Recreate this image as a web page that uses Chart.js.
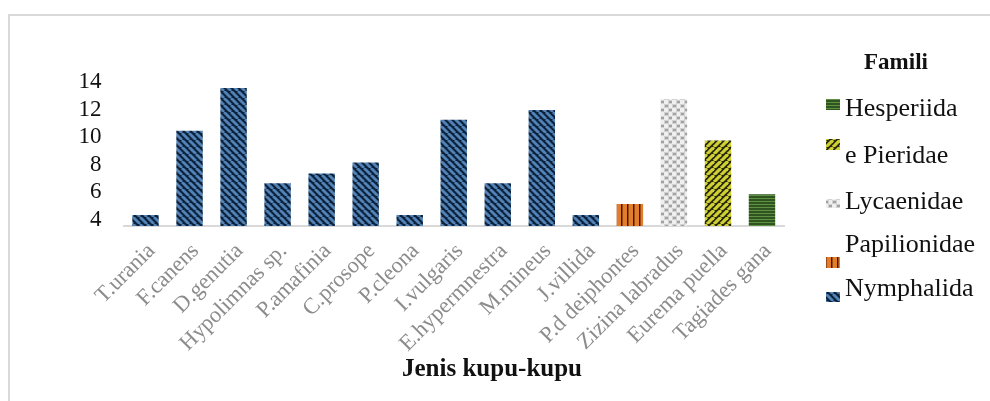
<!DOCTYPE html>
<html>
<head>
<meta charset="utf-8">
<script src="https://cdn.jsdelivr.net/npm/chart.js@4"></script>
<style>
  html, body { margin: 0; padding: 0; background: #fff; overflow: hidden; }
  #wrap { position: relative; width: 990px; height: 401px; }
</style>
</head>
<body>
<div id="wrap"><canvas id="c" width="990" height="401"></canvas></div>
<script>
// Butterfly species on the x axis
const species = ['T.urania', 'F.canens', 'D.genutia', 'Hypolimnas sp.', 'P.amafinia', 'C.prosope',
  'P.cleona', 'I.vulgaris', 'E.hypermnestra', 'M.mineus', 'J.villida', 'P.d deiphontes',
  'Zizina labradus', 'Eurema puella', 'Tagiades gana'];

// Value for each species
const values = [4.8, 10.9, 14.0, 7.1, 7.8, 8.6, 4.8, 11.7, 7.1, 12.4, 4.8, 5.6, 13.2, 10.2, 6.3];

// Family of each species (as labelled in the legend)
const familyOf = ['Nymphalida', 'Nymphalida', 'Nymphalida', 'Nymphalida', 'Nymphalida', 'Nymphalida',
  'Nymphalida', 'Nymphalida', 'Nymphalida', 'Nymphalida', 'Nymphalida', 'Papilionidae',
  'Lycaenidae', 'e Pieridae', 'Hesperiida'];

// Families, in dataset order and in legend order
const families = ['Nymphalida', 'Papilionidae', 'Lycaenidae', 'e Pieridae', 'Hesperiida'];
const legendOrder = ['Hesperiida', 'e Pieridae', 'Lycaenidae', 'Papilionidae', 'Nymphalida'];

// Value axis
const yTicks = [4, 6, 8, 10, 12, 14];

const xTitle = 'Jenis kupu-kupu';
const legendTitle = 'Famili';

// ---- fill patterns ----
const mainCtx = document.getElementById('c').getContext('2d');
function tile(w, h, draw) {
  const c = document.createElement('canvas');
  c.width = w; c.height = h;
  draw(c.getContext('2d'), w, h);
  return mainCtx.createPattern(c, 'repeat');
}
function diagonal(s, bg, fg, lw, down) {
  return tile(s, s, (g) => {
    g.fillStyle = bg; g.fillRect(0, 0, s, s);
    g.strokeStyle = fg; g.lineWidth = lw;
    for (let k = -1; k <= 1; k++) {
      g.beginPath();
      if (down) { g.moveTo(k * s, 0); g.lineTo(k * s + s, s); }
      else { g.moveTo(k * s, s); g.lineTo(k * s + s, 0); }
      g.stroke();
    }
  });
}
const fills = {
  'Nymphalida': diagonal(7, '#0c213b', '#5383b6', 2.8, true),
  'e Pieridae': diagonal(7, '#28280a', '#cfd034', 3.2, false),
  'Hesperiida': tile(4, 3, (g, w, h) => {
    g.fillStyle = '#2f5420'; g.fillRect(0, 0, w, h);
    g.fillStyle = '#5f9142'; g.fillRect(0, 0, w, 1);
  }),
  'Papilionidae': tile(6, 4, (g, w, h) => {
    g.fillStyle = '#e27d2c'; g.fillRect(0, 0, w, h);
    g.fillStyle = '#3d1d06'; g.fillRect(3, 0, 1, h);
    g.fillStyle = '#9a4c14'; g.fillRect(4, 0, 1, h);
  }),
  'Lycaenidae': tile(8, 8, (g, w, h) => {
    g.fillStyle = '#efefef'; g.fillRect(0, 0, w, h);
    g.fillStyle = '#d2d2d2'; g.fillRect(0, 0, 5, 4); g.fillRect(4, 4, 5, 4);
    g.fillStyle = '#a2a2a2'; g.fillRect(1, 1, 3, 2); g.fillRect(5, 5, 3, 2);
  })
};

// one dataset per family, bars overlaid on their own category
const datasets = families.map((f) => ({
  label: f,
  data: values.map((v, i) => (familyOf[i] === f ? v : null)),
  backgroundColor: fills[f],
  borderWidth: 0,
  grouped: false,
  categoryPercentage: 1,
  barPercentage: 0.6
}));

// frame, axis title and legend
const decor = {
  id: 'decor',
  beforeDraw(chart) {
    const ctx = chart.ctx;
    ctx.save();
    ctx.strokeStyle = '#d9d9d9';
    ctx.lineWidth = 2;
    ctx.beginPath();
    ctx.moveTo(9, 420); ctx.lineTo(9, 15); ctx.lineTo(1000, 15);
    ctx.stroke();
    ctx.restore();
  },
  afterDraw(chart) {
    const ctx = chart.ctx;
    ctx.save();
    ctx.fillStyle = '#111';
    ctx.textBaseline = 'alphabetic';
    ctx.textAlign = 'center';
    ctx.font = 'bold 25px "Liberation Serif"';
    ctx.fillText(xTitle, 492, 376);
    ctx.font = 'bold 23px "Liberation Serif"';
    ctx.fillText(legendTitle, 896, 69);

    const boxes = { 'Hesperiida': [99, 11], 'e Pieridae': [139, 11], 'Lycaenidae': [199, 9],
      'Papilionidae': [257, 11], 'Nymphalida': [292, 10] };
    const baselines = { 'Hesperiida': 116, 'e Pieridae': 163, 'Lycaenidae': 209,
      'Papilionidae': 252, 'Nymphalida': 296 };
    ctx.textAlign = 'left';
    ctx.font = '26px "Liberation Serif"';
    legendOrder.forEach((f) => {
      const [by, bh] = boxes[f];
      ctx.fillStyle = fills[f];
      ctx.fillRect(826, by, 14, bh);
      ctx.fillStyle = '#111';
      ctx.fillText(f, 845, baselines[f]);
    });
    ctx.restore();
  }
};

new Chart(document.getElementById('c'), {
  type: 'bar',
  data: { labels: species, datasets },
  plugins: [decor],
  options: {
    responsive: false,
    animation: false,
    devicePixelRatio: 1,
    layout: { padding: { left: 0, right: 206, top: 88, bottom: 0 } },
    plugins: { legend: { display: false }, tooltip: { enabled: false }, title: { display: false } },
    scales: {
      x: {
        grid: { display: false },
        border: { display: true, color: '#d9d9d9', width: 2 },
        ticks: {
          minRotation: 45, maxRotation: 45, autoSkip: false,
          color: '#8c8c8c',
          font: { family: 'Liberation Serif', size: 22.5 },
          padding: 4,
          labelOffset: 6
        },
        afterFit(scale) { scale.height = 175; }
      },
      y: {
        min: 4, max: 14,
        afterBuildTicks(scale) { scale.ticks = yTicks.map((v) => ({ value: v })); },
        grid: { display: false, drawTicks: false },
        border: { display: false },
        ticks: {
          autoSkip: false,
          color: '#111',
          font: { family: 'Liberation Serif', size: 23 },
          padding: 22,
          labelOffset: -6
        },
        afterFit(scale) { scale.width = 123.5; }
      }
    }
  }
});
</script>
</body>
</html>
